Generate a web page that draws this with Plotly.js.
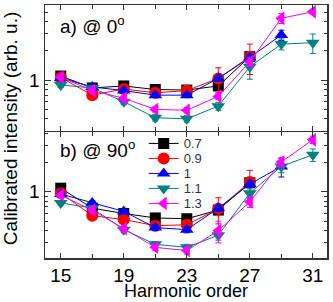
<!DOCTYPE html>
<html>
<head>
<meta charset="utf-8">
<script src="https://cdn.plot.ly/plotly-3.0.1.min.js"></script>
<style>html,body{margin:0;padding:0;background:#fff;}#chart{width:333px;height:302px;}</style>
</head>
<body>
<div id="chart"></div>
<script>
// Harmonic orders
const harmonics = [15, 17, 19, 21, 23, 25, 27, 29, 31];
const seriesNames = ['0.7', '0.9', '1', '1.1', '1.3'];

// Panel a) @ 0 deg
const a_07 = [1.10, 0.83, 0.87, 0.80, 0.79, 0.87, 1.74];
const a_09 = [1.06, 0.70, 0.81, 0.74, 0.78, 1.04, 1.74];
const a_10 = [1.05, 0.85, 0.78, 0.70, 0.70, 1.04, 1.71, 2.90];
const a_11 = [0.89, 0.83, 0.60, 0.41, 0.40, 0.54, 1.37, 2.34, 2.42];
const a_13 = [1.07, 0.78, 0.65, 0.50, 0.49, 0.68, 1.54, 4.31, 5.03];
const a_07_err = [0.05, 0.04, 0.04, 0.04, 0.04, 0.06, 0.15];
const a_09_err = [0.06, 0.05, 0.05, 0.05, 0.05, 0.30, 0.60];
const a_10_err = [0.05, 0.04, 0.04, 0.04, 0.04, 0.06, 0.12, 0.35];
const a_11_err = [0.05, 0.04, 0.04, 0.03, 0.03, 0.05, 0.35, 0.30, 0.55];
const a_13_err = [0.05, 0.04, 0.04, 0.03, 0.03, 0.05, 0.15, 0.50, 0.30];

// Panel b) @ 90 deg
const b_07 = [1.09, 0.68, 0.60, 0.54, 0.53, 0.65, 1.24];
const b_09 = [0.97, 0.57, 0.52, 0.45, 0.46, 0.67, 1.26];
const b_10 = [0.95, 0.77, 0.63, 0.43, 0.41, 0.68, 1.20, 1.82];
const b_11 = [0.77, 0.68, 0.41, 0.29, 0.27, 0.36, 0.97, 1.82, 2.40];
const b_13 = [0.92, 0.65, 0.42, 0.27, 0.25, 0.40, 0.79, 2.02, 3.42];
const b_07_err = [0.05, 0.04, 0.03, 0.03, 0.03, 0.05, 0.10];
const b_09_err = [0.05, 0.04, 0.03, 0.03, 0.03, 0.20, 0.40];
const b_10_err = [0.05, 0.04, 0.03, 0.03, 0.03, 0.05, 0.10, 0.40];
const b_11_err = [0.04, 0.04, 0.03, 0.02, 0.02, 0.04, 0.10, 0.25, 0.35];
const b_13_err = [0.04, 0.04, 0.03, 0.02, 0.02, 0.10, 0.10, 0.20, 0.30];

const colors = ['#000000', '#ff0000', '#0000ff', '#008080', '#ff00ff'];
const symbols = ['square', 'circle', 'triangle-up', 'triangle-down', 'triangle-left'];
const msizes = [11, 12, 12, 12, 12];

const aData = [a_07, a_09, a_10, a_11, a_13];
const aErr = [a_07_err, a_09_err, a_10_err, a_11_err, a_13_err];
const bData = [b_07, b_09, b_10, b_11, b_13];
const bErr = [b_07_err, b_09_err, b_10_err, b_11_err, b_13_err];

const traces = [];
function mk(vals, errs, i, xa, ya, show) {
  return {
    x: harmonics.slice(0, vals.length), y: vals,
    xaxis: xa, yaxis: ya,
    type: 'scatter', mode: 'lines+markers',
    name: seriesNames[i], showlegend: show,
    line: {color: colors[i], width: 1},
    marker: {symbol: symbols[i], size: msizes[i], color: colors[i]},
    error_y: {type: 'data', array: errs, visible: true, color: colors[i], thickness: 1, width: 3}
  };
}
for (let i = 0; i < 5; i++) traces.push(mk(aData[i], aErr[i], i, 'x2', 'y2', false));
for (let i = 0; i < 5; i++) traces.push(mk(bData[i], bErr[i], i, 'x', 'y', true));

const font = {family: 'Liberation Sans, Arial, sans-serif', size: 19, color: '#000'};
const frame = {showline: true, linecolor: '#333', linewidth: 1.5, mirror: 'ticks', ticks: 'inside', tickcolor: '#333', zeroline: false, showgrid: false};

const layout = {
  width: 333, height: 302,
  margin: {l: 45, r: 6, t: 5, b: 44},
  paper_bgcolor: '#fff', plot_bgcolor: '#fff',
  font: font,
  xaxis: Object.assign({}, frame, {
    domain: [0, 1], anchor: 'y', range: [14, 31.9],
    tickmode: 'linear', tick0: 15, dtick: 4, ticklen: 5, tickwidth: 1,
    minor: {tickmode: 'linear', tick0: 15, dtick: 2, ticklen: 4, ticks: 'inside', tickcolor: '#333'},
    tickfont: {size: 19}, ticklabelstandoff: 0
  }),
  xaxis2: Object.assign({}, frame, {
    domain: [0, 1], anchor: 'y2', matches: 'x', range: [14, 31.9],
    tickmode: 'linear', tick0: 15, dtick: 4, ticklen: 5, tickwidth: 1,
    minor: {tickmode: 'linear', tick0: 15, dtick: 2, ticklen: 4, ticks: 'inside', tickcolor: '#333'},
    showticklabels: false
  }),
  yaxis: Object.assign({}, frame, {
    domain: [0, 0.498], anchor: 'x', type: 'log',
    range: [Math.log10(0.21), Math.log10(4.1)],
    tickmode: 'array', tickvals: [1], ticktext: ['1'], ticklen: 6, tickwidth: 1,
    minor: {tickmode: 'array', tickvals: [0.3, 0.4, 0.5, 0.6, 0.7, 0.8, 0.9, 2, 3, 4], ticklen: 3, ticks: 'inside', tickcolor: '#333'},
    tickfont: {size: 19}
  }),
  yaxis2: Object.assign({}, frame, {
    domain: [0.502, 1], anchor: 'x2', type: 'log',
    range: [Math.log10(0.3), Math.log10(5.9)],
    tickmode: 'array', tickvals: [1], ticktext: ['1'], ticklen: 6, tickwidth: 1,
    minor: {tickmode: 'array', tickvals: [0.4, 0.5, 0.6, 0.7, 0.8, 0.9, 2, 3, 4, 5], ticklen: 3, ticks: 'inside', tickcolor: '#333'},
    tickfont: {size: 19}
  }),
  legend: {
    x: 0.35, xanchor: 'left', y: 0.512, yanchor: 'top',
    bgcolor: 'rgba(0,0,0,0)', borderwidth: 0, tracegroupgap: 0,
    font: {size: 13, color: '#333'}, itemwidth: 30
  },
  annotations: [
    {text: 'a) @ 0<sup>o</sup>', xref: 'paper', yref: 'paper', x: 0.045, y: 0.92, xanchor: 'left', yanchor: 'middle', showarrow: false, font: {size: 19}},
    {text: 'b) @ 90<sup>o</sup>', xref: 'paper', yref: 'paper', x: 0.045, y: 0.43, xanchor: 'left', yanchor: 'middle', showarrow: false, font: {size: 19}},
    {text: 'Calibrated intensity (arb. u.)', xref: 'paper', yref: 'paper', x: -0.12, y: 0.51, xanchor: 'center', yanchor: 'middle', textangle: -90, showarrow: false, font: {size: 19}},
    {text: 'Harmonic order', xref: 'paper', yref: 'paper', x: 0.5, y: -0.1304, xanchor: 'center', yanchor: 'middle', height: 18, showarrow: false, font: {size: 18}}
  ]
};

Plotly.newPlot('chart', traces, layout, {staticPlot: true, displayModeBar: false}).then(function () {
  // tighten the legend row spacing to match the reference (15 px per entry)
  const items = document.querySelectorAll('#chart .legend .traces');
  let y0 = null;
  items.forEach(function (g, i) {
    const t = g.getAttribute('transform') || '';
    const m = t.match(/translate\(\s*([-\d.]+)[ ,]+([-\d.]+)\s*\)/);
    if (!m) return;
    const x = parseFloat(m[1]);
    const y = parseFloat(m[2]);
    if (y0 === null) y0 = y;
    g.setAttribute('transform', 'translate(' + x + ',' + (y0 + i * 15) + ')');
  });
});
</script>
</body>
</html>
